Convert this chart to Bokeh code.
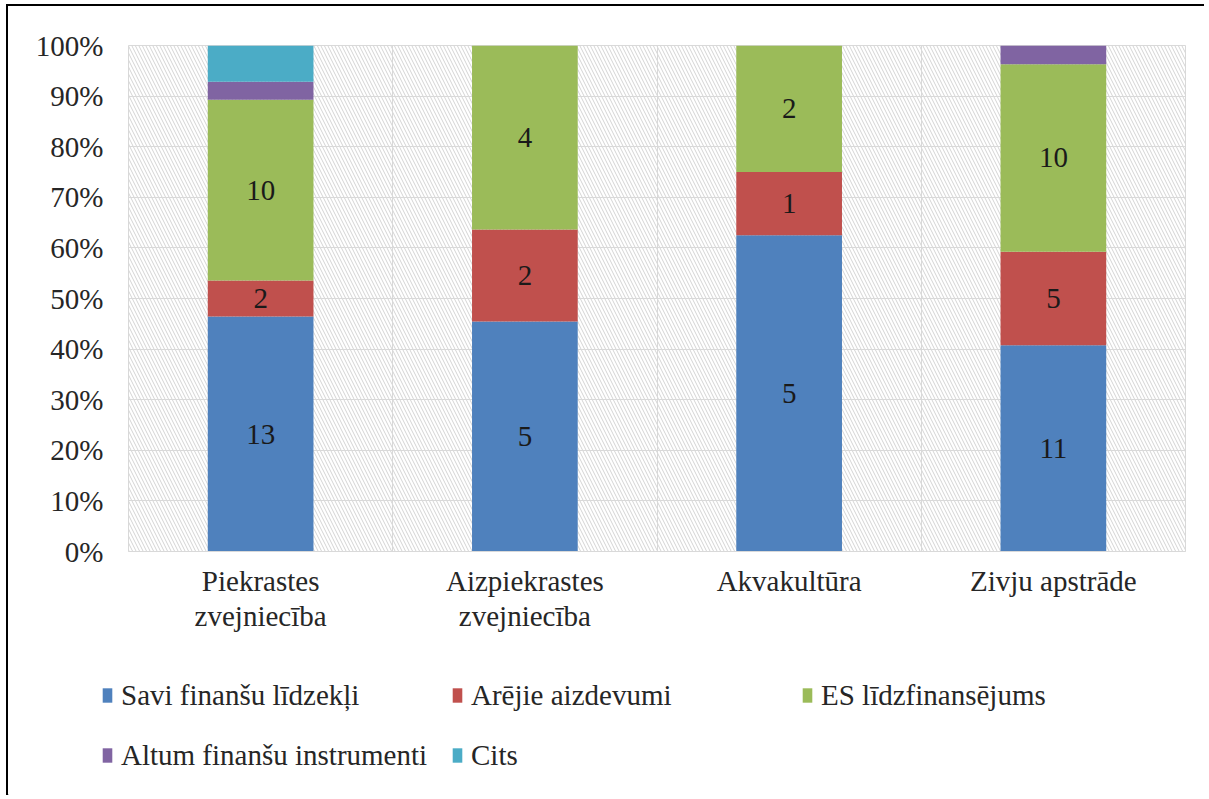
from bokeh.plotting import figure
from bokeh.models import (FactorRange, FixedTicker, NumeralTickFormatter, Legend,
                          LegendItem, ColumnDataSource)
from bokeh.core.properties import value
from bokeh.embed import file_html
from bokeh.resources import INLINE

categories = ["Piekrastes\nzvejniecība", "Aizpiekrastes\nzvejniecība", "Akvakultūra", "Zivju apstrāde"]
series = ["Savi finanšu līdzekļi", "Arējie aizdevumi", "ES līdzfinansējums",
          "Altum finanšu instrumenti", "Cits"]
savi = [13, 5, 5, 11]
arejie = [2, 2, 1, 5]
es = [10, 4, 2, 10]
altum = [1, 0, 0, 1]
cits = [2, 0, 0, 0]
labelled = [True, True, True, False, False]
colors = ["#4F81BD", "#C0504D", "#9BBB59", "#8064A2", "#4BACC6"]
y_ticks = [0, 0.1, 0.2, 0.3, 0.4, 0.5, 0.6, 0.7, 0.8, 0.9, 1.0]

FONT = "Liberation Serif"
FS = "29px"
TXT = "#262626"
raw = [savi, arejie, es, altum, cits]
totals = [sum(v[i] for v in raw) for i in range(len(categories))]
keys = ["s%d" % k for k in range(len(raw))]
data = {"cat": categories}
for k, v in zip(keys, raw):
    data[k] = [v[i] / totals[i] for i in range(len(categories))]
source = ColumnDataSource(data)

W = 1198
p = figure(x_range=FactorRange(*categories), y_range=(0, 1),
           width=W, height=645, output_backend="svg", toolbar_location=None,
           min_border_left=120, min_border_right=21, min_border_top=39, min_border_bottom=100,
           styles={"border-top": "2px solid black", "border-left": "2px solid black",
                   "margin-left": "6px", "margin-top": "4px"})
p.background_fill_color = "white"
p.border_fill_color = "white"
p.outline_line_color = "#d9d9d9"

# hatched plot-area background
p.quad(left=[0], right=[len(categories)], bottom=[0], top=[1], fill_color=None,
       line_color=None, hatch_pattern="\\", hatch_color="#d4d4d4", hatch_scale=7,
       hatch_weight=1, level="image")

rs = p.vbar_stack(keys, x="cat", width=0.4, color=colors, source=source, line_color=None)

# data labels
lx, ly, lt = [], [], []
for i, c in enumerate(categories):
    cum = 0.0
    for k, v in enumerate(raw):
        frac = v[i] / totals[i]
        if labelled[k] and v[i] > 0:
            lx.append(c)
            ly.append(cum + frac / 2)
            lt.append(str(v[i]))
        cum += frac
p.text(x=lx, y=ly, text=lt, text_font=value(FONT), text_font_size=FS,
       text_color="#1a1a1a", text_align="center", text_baseline="middle")

p.xgrid.ticker = FixedTicker(ticks=[1, 2, 3])
p.xgrid.grid_line_color = "#d9d9d9"
p.ygrid.ticker = FixedTicker(ticks=y_ticks)
p.ygrid.grid_line_color = "#d9d9d9"

p.yaxis.ticker = FixedTicker(ticks=y_ticks)
p.yaxis.formatter = NumeralTickFormatter(format="0%")
p.yaxis.axis_line_color = None
p.yaxis.major_tick_line_color = None
p.yaxis.minor_tick_line_color = None
p.yaxis.major_label_standoff = 19
p.yaxis.major_label_text_font = FONT
p.yaxis.major_label_text_font_size = FS
p.yaxis.major_label_text_color = TXT

p.xaxis.axis_line_color = "#d9d9d9"
p.xaxis.major_tick_line_color = None
p.xaxis.minor_tick_line_color = None
p.xaxis.major_label_standoff = 7
p.xaxis.major_label_text_font = FONT
p.xaxis.major_label_text_font_size = FS
p.xaxis.major_label_text_color = TXT
p.xaxis.major_label_text_line_height = 1.12

# legend panel (separate canvas below the chart, 1 unit = 1 px)
H2 = 146
lg = figure(width=W, height=H2, x_range=(0, W), y_range=(0, H2), output_backend="svg",
            toolbar_location=None, x_axis_type=None, y_axis_type=None,
            min_border=0, min_border_left=0, min_border_right=0,
            min_border_top=0, min_border_bottom=0,
            styles={"border-left": "2px solid black", "margin-left": "6px"})
lg.outline_line_color = None
lg.xgrid.visible = False
lg.ygrid.visible = False
lg.background_fill_color = "white"
lg.border_fill_color = "white"
items = []
for s, c in zip(series, colors):
    # legend-key renderer: its single point lies outside the visible range
    r = lg.vbar(x=[-100], top=[1], width=1, color=c, line_color=None)
    items.append(LegendItem(label=s, renderers=[r]))
legend = Legend(items=items, location=(93, 15), orientation="horizontal", ncols=3,
                glyph_width=12, glyph_height=18, label_standoff=8, label_width=320,
                label_height=50, spacing=10, padding=0, margin=0,
                border_line_color=None, background_fill_alpha=0,
                label_text_font=FONT, label_text_font_size=FS,
                label_text_color=TXT)
lg.add_layout(legend, "center")

open("out.html", "w").write(file_html([p, lg], INLINE))
